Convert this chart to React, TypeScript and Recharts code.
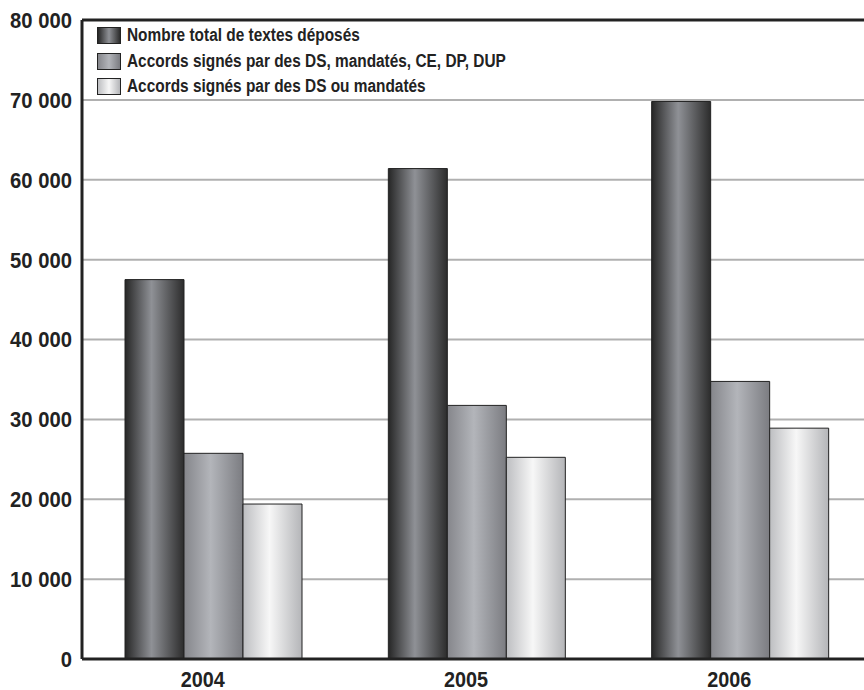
import { BarChart, Bar, XAxis, YAxis, CartesianGrid, Legend, ReferenceLine } from 'recharts';

const years = ['2004', '2005', '2006'];
const totalTextes = [47500, 61400, 69800];
const accordsLarges = [25750, 31750, 34750];
const accordsDS = [19400, 25250, 28900];
const yTicks = [0, 10000, 20000, 30000, 40000, 50000, 60000, 70000, 80000];

// no condensed bold font installed, so Liberation Sans Bold is squeezed horizontally
const FONT = "'Liberation Sans', Arial, sans-serif";

const series = [
  { key: 'total', name: 'Nombre total de textes déposés', grad: 'gDark', stops: ['#262626', '#8f9196', '#2c2c2c'] },
  { key: 'large', name: 'Accords signés par des DS, mandatés, CE, DP, DUP', grad: 'gMid', stops: ['#85868b', '#b3b5ba', '#7b7c81'] },
  { key: 'ds', name: 'Accords signés par des DS ou mandatés', grad: 'gLight', stops: ['#bdbec1', '#f7f7f7', '#b4b5b8'] },
];

const data = years.map((year, i) => ({
  year,
  total: totalTextes[i],
  large: accordsLarges[i],
  ds: accordsDS[i],
}));

const fmt = (v: number) => String(v).replace(/\B(?=(\d{3})+(?!\d))/g, ' ');

const YTick = ({ y, payload }: any) => (
  <g transform={`translate(72,${y}) scale(0.92,1)`}>
    <text x={0} y={0} dy="0.36em" textAnchor="end" fontFamily={FONT} fontWeight="bold" fontSize={22} fill="#222">
      {fmt(payload.value)}
    </text>
  </g>
);

const XTick = ({ x, payload }: any) => (
  <g transform={`translate(${x - 11},687) scale(0.88,1)`}>
    <text x={0} y={0} textAnchor="middle" fontFamily={FONT} fontWeight="bold" fontSize={22.5} fill="#222">
      {payload.value}
    </text>
  </g>
);

const LegendBox = () => (
  <div style={{ display: 'flex', flexDirection: 'column' }}>
    {series.map((s) => (
      <div key={s.key} style={{ display: 'flex', alignItems: 'center', height: 25.5 }}>
        <span
          style={{
            width: 24,
            height: 17,
            boxSizing: 'border-box',
            border: '1px solid #222',
            background: `linear-gradient(to right, ${s.stops[0]}, ${s.stops[1]} 50%, ${s.stops[2]})`,
            marginRight: 6,
            flex: 'none',
          }}
        />
        <span
          style={{
            display: 'inline-block',
            fontFamily: FONT,
            fontWeight: 'bold',
            fontSize: 17.5,
            color: '#222',
            whiteSpace: 'nowrap',
            transform: 'scaleX(0.88)',
            transformOrigin: 'left center',
          }}
        >
          {s.name}
        </span>
      </div>
    ))}
  </div>
);

export default function App() {
  return (
    <div style={{ position: 'absolute', top: 0, left: 0, width: 864, height: 690, overflow: 'hidden', background: '#fff' }}>
      <BarChart
        width={880}
        height={690}
        data={data}
        margin={{ top: 20, right: 8, bottom: 0, left: 0 }}
        barGap={0}
        barSize={59}
      >
        <defs>
          {series.map((s) => (
            <linearGradient key={s.grad} id={s.grad} x1="0" y1="0" x2="1" y2="0">
              <stop offset="0%" stopColor={s.stops[0]} />
              <stop offset="45%" stopColor={s.stops[1]} />
              <stop offset="100%" stopColor={s.stops[2]} />
            </linearGradient>
          ))}
        </defs>
        <CartesianGrid vertical={false} stroke="#b0b0b0" strokeWidth={2} />
        <XAxis
          dataKey="year"
          tickLine={false}
          axisLine={{ stroke: '#222', strokeWidth: 3 }}
          height={31}
          tick={<XTick />}
        />
        <YAxis
          domain={[0, 80000]}
          ticks={yTicks}
          tickLine={false}
          axisLine={{ stroke: '#222', strokeWidth: 3 }}
          width={82}
          tick={<YTick />}
        />
        <Legend
          layout="vertical"
          verticalAlign="middle"
          align="center"
          content={<LegendBox />}
          wrapperStyle={{ top: 23, left: 97, width: 'auto', height: 'auto' }}
        />
        {series.map((s) => (
          <Bar
            key={s.key}
            dataKey={s.key}
            name={s.name}
            fill={`url(#${s.grad})`}
            stroke="#222"
            strokeWidth={1}
            isAnimationActive={false}
          />
        ))}
        <ReferenceLine y={80000} stroke="#222" strokeWidth={3} />
      </BarChart>
    </div>
  );
}
